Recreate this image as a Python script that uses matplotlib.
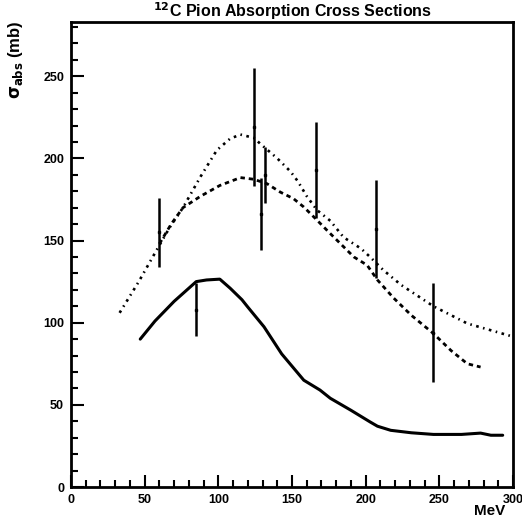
import matplotlib
matplotlib.use("Agg")
import matplotlib.pyplot as plt
from matplotlib.ticker import MultipleLocator

plt.rcParams['font.family'] = ['Liberation Sans', 'DejaVu Sans']
plt.rcParams['font.weight'] = 'bold'

# Data points with error bars
data_x = [60, 85, 124, 129, 132, 166, 207, 246]
data_y = [155, 108, 219, 166, 190, 193, 157, 94]
data_err = [21, 16, 36, 22, 17, 29, 30, 30]

# Solid curve
solid_x = [47, 57, 70, 85, 92, 101, 108, 116, 120, 131, 143, 158, 169, 176, 190, 203, 208, 217, 231, 246, 265, 278, 285, 293]
solid_y = [90, 101, 113, 125, 126, 126.5, 121, 114, 109.5, 97.5, 81, 65, 59, 54, 46.7, 39.6, 37, 34.5, 33, 32, 32, 32.8, 31.5, 31.5]

# Upper dash-dot curve
upper_x = [33, 46, 58, 67, 76, 88, 99, 108, 115, 124, 129, 140, 149, 154, 160, 167, 176, 185, 197, 203, 212, 224, 246, 269, 300]
upper_y = [106, 125, 144, 158, 170, 189, 205, 212, 214.5, 212.5, 208.5, 200, 192, 186, 177, 168.5, 162, 152, 145, 140, 132, 123, 110, 99.5, 91.5]

# Lower dashed curve
lower_x = [60, 68, 76, 88, 101, 115, 124, 133, 142, 151, 158, 166, 174, 183, 192, 201, 208, 219, 231, 246, 258, 269, 278]
lower_y = [148, 160, 170, 177, 183.5, 188.3, 187.3, 184.6, 179.5, 175.5, 170.4, 163.3, 156, 148, 140, 135, 126, 115, 104.5, 93.4, 83, 75, 73]

fig = plt.figure(figsize=(5.22, 5.23), dpi=100)
ax = fig.add_axes([71/522, 1-487/523, 442/522, 465/523])

ax.plot(solid_x, solid_y, color='black', lw=2.2, solid_capstyle='round')
ax.plot(upper_x, upper_y, color='black', lw=1.9, linestyle=(0, (1.0, 1.7, 0.6, 1.7)))
ax.plot(lower_x, lower_y, color='black', lw=2.0, linestyle=(0, (1.6, 1.4)))
ax.errorbar(data_x, data_y, yerr=data_err, fmt='s', color='black', ms=2.0,
            elinewidth=1.8, capsize=0)

ax.set_xlim(0, 300)
ax.set_ylim(0, 283)
ax.xaxis.set_major_locator(MultipleLocator(50))
ax.xaxis.set_minor_locator(MultipleLocator(10))
ax.yaxis.set_major_locator(MultipleLocator(50))
ax.yaxis.set_minor_locator(MultipleLocator(10))
ax.tick_params(which='both', direction='in', top=False, right=False, width=1.5)
ax.tick_params(which='major', length=9, labelsize=9, pad=5)
ax.tick_params(which='minor', length=5)
for lab in ax.get_xticklabels() + ax.get_yticklabels():
    lab.set_fontweight('bold')
for s in ax.spines.values():
    s.set_linewidth(2)

ax.set_title(r'$^{\mathbf{12}}$C Pion Absorption Cross Sections', fontsize=11.5,
             fontweight='bold', pad=0)
ax.text(-0.125, 0.918, r'$\mathbf{\sigma_{abs}}$ (mb)', transform=ax.transAxes,
        rotation=90, ha='center', va='center', fontsize=12, fontweight='bold')
ax.text(0.948, -0.052, 'MeV', transform=ax.transAxes, ha='center', va='center',
        fontsize=11, fontweight='bold')

fig.savefig('out.png', dpi=100)
